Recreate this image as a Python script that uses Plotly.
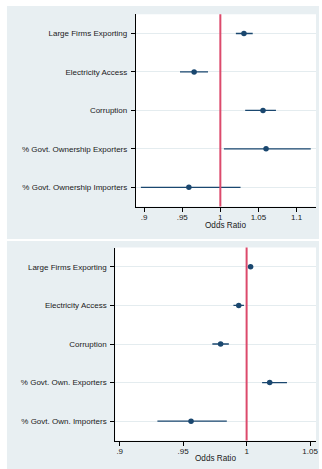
import plotly.graph_objects as go

# ---- data ----
top_labels = ["Large Firms Exporting", "Electricity Access", "Corruption",
              "% Govt. Ownership Exporters", "% Govt. Ownership Importers"]
top_or = [1.031, 0.9656, 1.056, 1.060, 0.9587]
top_lo = [1.0204, 0.947, 1.0326, 1.0047, 0.8957]
top_hi = [1.0425, 0.9838, 1.073, 1.1187, 1.0265]

bot_labels = ["Large Firms Exporting", "Electricity Access", "Corruption",
              "% Govt. Own. Exporters", "% Govt. Own. Importers"]
bot_or = [1.0031, 0.9938, 0.9795, 1.0182, 0.9562]
bot_lo = [1.0010, 0.9896, 0.9730, 1.0122, 0.9297]
bot_hi = [1.0052, 0.9979, 0.9860, 1.0318, 0.9844]

top_ticks = [0.9, 0.95, 1, 1.05, 1.1]
top_ticktext = [".9", ".95", "1", "1.05", "1.1"]
bot_ticks = [0.9, 0.95, 1, 1.05]
bot_ticktext = [".9", ".95", "1", "1.05"]
x_title = "Odds Ratio"

W, H = 322, 469
NAVY = "#1a476f"
RED = "#dc4a6c"
BG = "#e8eff2"
GRID = "#e4ecef"
FONT = "Liberation Sans, Arial, sans-serif"


def px_x(p):
    return p / W


def px_y(p):
    return (H - p) / H


fig = go.Figure()

fig.add_trace(go.Scatter(
    x=top_or, y=top_labels, mode="markers",
    marker=dict(color=NAVY, size=5.5),
    error_x=dict(type="data", symmetric=False,
                 array=[h - e for h, e in zip(top_hi, top_or)],
                 arrayminus=[e - l for e, l in zip(top_or, top_lo)],
                 width=0, thickness=1.3, color=NAVY),
    xaxis="x", yaxis="y", showlegend=False, hoverinfo="skip"))

fig.add_trace(go.Scatter(
    x=bot_or, y=bot_labels, mode="markers",
    marker=dict(color=NAVY, size=5.5),
    error_x=dict(type="data", symmetric=False,
                 array=[h - e for h, e in zip(bot_hi, bot_or)],
                 arrayminus=[e - l for e, l in zip(bot_or, bot_lo)],
                 width=0, thickness=1.3, color=NAVY),
    xaxis="x2", yaxis="y2", showlegend=False, hoverinfo="skip"))

# panel geometry (pixels)
top_box = (136.7, 318.0, 14.3, 206.5)   # x0, x1, ytop, ybottom
bot_box = (116.0, 318.0, 247.5, 440.5)

axis_common = dict(showline=True, linecolor="black", linewidth=1,
                   ticks="outside", ticklen=4, tickcolor="black", tickwidth=1,
                   zeroline=False, tickfont=dict(family=FONT, size=8, color="#1a1a1a"))

fig.update_layout(
    width=W, height=H,
    margin=dict(l=0, r=0, t=0, b=0),
    paper_bgcolor="white", plot_bgcolor="white",
    font=dict(family=FONT, size=8, color="#1a1a1a"),
    xaxis=dict(domain=[px_x(top_box[0]), px_x(top_box[1])],
               range=[0.8891, 1.1256], tickvals=top_ticks, ticktext=top_ticktext,
               showgrid=False, anchor="y", ticklabelstandoff=-1, **axis_common),
    yaxis=dict(domain=[px_y(top_box[3]), px_y(top_box[2])],
               type="category", categoryorder="array", categoryarray=top_labels,
               range=[4.5, -0.5], showgrid=True, gridcolor=GRID, gridwidth=1,
               anchor="x", ticklabelstandoff=2, **axis_common),
    xaxis2=dict(domain=[px_x(bot_box[0]), px_x(bot_box[1])],
                range=[0.8965, 1.0547], tickvals=bot_ticks, ticktext=bot_ticktext,
                showgrid=False, anchor="y2", ticklabelstandoff=-1, **axis_common),
    yaxis2=dict(domain=[px_y(bot_box[3]), px_y(bot_box[2])],
                type="category", categoryorder="array", categoryarray=bot_labels,
                range=[4.5, -0.5], showgrid=True, gridcolor=GRID, gridwidth=1,
                anchor="x2", ticklabelstandoff=2, **axis_common),
    annotations=[
        dict(text=x_title, xref="paper", yref="paper",
             x=px_x((top_box[0] + top_box[1]) / 2), y=px_y(225),
             xanchor="center", yanchor="middle", showarrow=False,
             font=dict(family=FONT, size=8.2, color="#1a1a1a")),
        dict(text=x_title, xref="paper", yref="paper",
             x=px_x((bot_box[0] + bot_box[1]) / 2), y=px_y(458.5),
             xanchor="center", yanchor="middle", showarrow=False,
             font=dict(family=FONT, size=8.2, color="#1a1a1a")),
    ],
)

shapes = [
    # panel backgrounds
    dict(type="rect", xref="paper", yref="paper", layer="below",
         x0=px_x(7), x1=px_x(321), y0=px_y(239), y1=px_y(6),
         fillcolor=BG, line=dict(width=0)),
    dict(type="rect", xref="paper", yref="paper", layer="below",
         x0=px_x(7), x1=px_x(321), y0=px_y(469), y1=px_y(241),
         fillcolor=BG, line=dict(width=0)),
    # white plot areas
    dict(type="rect", xref="paper", yref="paper", layer="below",
         x0=px_x(top_box[0]), x1=px_x(top_box[1]), y0=px_y(top_box[3]), y1=px_y(top_box[2]),
         fillcolor="white", line=dict(width=0)),
    dict(type="rect", xref="paper", yref="paper", layer="below",
         x0=px_x(bot_box[0]), x1=px_x(bot_box[1]), y0=px_y(bot_box[3]), y1=px_y(bot_box[2]),
         fillcolor="white", line=dict(width=0)),
    # reference lines at odds ratio = 1
    dict(type="line", xref="x", yref="y domain", x0=1, x1=1, y0=0, y1=1,
         line=dict(color=RED, width=2)),
    dict(type="line", xref="x2", yref="y2 domain", x0=1, x1=1, y0=0, y1=1,
         line=dict(color=RED, width=2)),
]
fig.update_layout(shapes=shapes)

fig.write_html("out.html", config={"displayModeBar": False},
               post_script="document.body.style.margin='0';document.body.style.padding='0';")
